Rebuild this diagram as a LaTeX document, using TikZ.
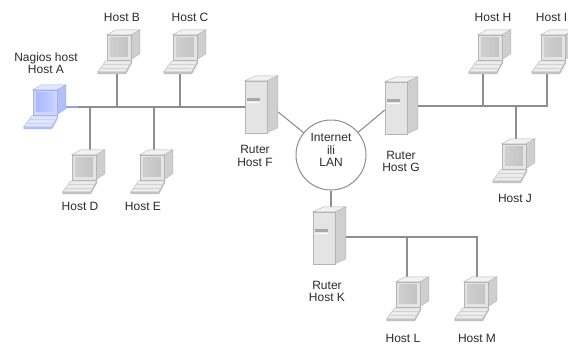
\documentclass[tikz,border=0pt]{standalone}
\usepackage{fontspec}
\setmainfont{Liberation Sans}
\definecolor{wiregray}{HTML}{8E8E8E}
\definecolor{hostblue}{HTML}{8FA0FF}
\definecolor{captext}{HTML}{2B2B2B}
\tikzset{
  % colour schemes for the workstation and server icons
  grayscheme/.style={/utils/exec={%
    \definecolor{icTop}{HTML}{F2F2F2}\definecolor{icFront}{HTML}{E4E4E4}%
    \definecolor{icSide}{HTML}{CFCFCF}\definecolor{icEdge}{HTML}{B4B4B4}%
    \definecolor{icKey}{HTML}{ECECEC}\definecolor{icKeySide}{HTML}{C9C9C9}%
    \definecolor{icScrA}{HTML}{CFCFCF}\definecolor{icScrB}{HTML}{8C8C8C}%
    \definecolor{icScrC}{HTML}{C4C4C4}\definecolor{icSlot}{HTML}{A8A8A8}}},
  bluescheme/.style={/utils/exec={%
    \definecolor{icTop}{HTML}{E3E8FF}\definecolor{icFront}{HTML}{CDD6FF}%
    \definecolor{icSide}{HTML}{B3BFF7}\definecolor{icEdge}{HTML}{A5B2F2}%
    \definecolor{icKey}{HTML}{DFE5FF}\definecolor{icKeySide}{HTML}{B9C4F5}%
    \definecolor{icScrA}{HTML}{AAB8FF}\definecolor{icScrB}{HTML}{6E86F2}%
    \definecolor{icScrC}{HTML}{C5CFFF}\definecolor{icSlot}{HTML}{8FA0EE}}},
  icline/.style={draw=icEdge,line width=0.4pt},
  % workstation: CRT monitor with keyboard, origin at the top left corner
  pc/.pic={
    \filldraw[icline,fill=icKeySide] (0,42) -- (28,42) -- (34,31) -- (34,33) -- (28,44) -- (0,44) -- cycle;
    \filldraw[icline,fill=icKey] (8,31) -- (34,31) -- (28,42) -- (0,42) -- cycle;
    \draw[icEdge!60,line width=0.3pt] (5.5,34.5) -- (32,34.5) (3,38) -- (30,38);
    \filldraw[icline,fill=icSide] (33,5) -- (42,0) -- (42,24) -- (33,30) -- cycle;
    \filldraw[icline,fill=icTop] (9,5) -- (33,5) -- (42,0) -- (18,0) -- cycle;
    \filldraw[icline,fill=icFront] (9,5) rectangle (33,30);
    \shade[left color=icScrA,middle color=icScrB,right color=icScrC] (12,8) rectangle (30,27);
  },
  % tower server used as router
  srv/.pic={
    \filldraw[icline,fill=icSide] (22,5) -- (33,0) -- (33,52) -- (22,57) -- cycle;
    \filldraw[icline,fill=icTop] (0,5) -- (22,5) -- (33,0) -- (11,0) -- cycle;
    \filldraw[icline,fill=icFront] (0,5) rectangle (22,57);
    \fill[icSlot] (2,22) rectangle (15,25);
    \draw[white,line width=0.5pt] (2,26) -- (15,26);
  }
}
\begin{document}
\begin{tikzpicture}[x=1pt,y=-1pt,
  wire/.style={draw=wiregray,line width=1.1pt},
  hostwire/.style={draw=hostblue,line width=1.1pt},
  caption/.style={font=\fontsize{12}{12.5}\selectfont,text=captext,align=center,inner sep=0pt},
  pcbox/.style={minimum width=42pt,minimum height=44pt,inner sep=0pt},
  srvbox/.style={minimum width=33pt,minimum height=57pt,inner sep=0pt},
  netcircle/.style={circle,draw=wiregray,line width=1pt,fill=white,minimum size=70pt,inner sep=0pt}]
\fill[white] (0,0) rectangle (568,346);
\useasboundingbox (0,0) rectangle (568,346);

% placeholders for the machines
\node[pcbox] (A) at (45,107) {};
\node[pcbox] (B) at (119,52) {};
\node[pcbox] (C) at (185,52) {};
\node[pcbox] (D) at (84,172) {};
\node[pcbox] (E) at (152,172) {};
\node[pcbox] (H) at (490,52) {};
\node[pcbox] (I) at (553,52) {};
\node[pcbox] (J) at (514,161) {};
\node[pcbox] (L) at (408,299) {};
\node[pcbox] (M) at (476,299) {};
\node[srvbox] (F) at (261.5,104.5) {};
\node[srvbox] (G) at (401.5,105.5) {};
\node[srvbox] (K) at (329.5,235.5) {};
\node[netcircle] (net) at (331,155) {};

% bus taps
\coordinate (tB) at (117,107);
\coordinate (tC) at (180,107);
\coordinate (tD) at (90,107);
\coordinate (tE) at (154,107);
\coordinate (tH) at (483,106);
\coordinate (tJ) at (516,106);
\coordinate (tI) at (547,106);
\coordinate (tL) at (407,237);
\coordinate (tM) at (477,237);

% segment of Host A
\draw[wire] (A.east) -- (A.east -| F.west);
\draw[hostwire] (A.east) -- ++(12,0);
\draw[wire] (tB) -- (tB |- B.south);
\draw[wire] (tC) -- (tC |- C.south);
\draw[wire] (tD) -- (tD |- D.north);
\draw[wire] (tE) -- (tE |- E.north);
% routers to the network
\draw[wire] ([yshift=-7.5pt]F.east) -- (net);
\draw[wire] ([yshift=-4.5pt]G.west) -- (net);
\draw[wire] (net.south) -- (net.south |- K.north);
% segment of router G
\draw[wire] (tI -| G.east) -- (tI) -- (tI |- I.south);
\draw[wire] (tH) -- (tH |- H.south);
\draw[wire] (tJ) -- (tJ |- J.north);
% segment of router K
\draw[wire] (tM -| K.east) -- (tM) -- (tM |- M.north);
\draw[wire] (tL) -- (tL |- L.north);

% icons
\pic[bluescheme] at (A.north west) {pc};
\foreach \n in {B,C,D,E,H,I,J,L,M} {\pic[grayscheme] at (\n.north west) {pc};}
\foreach \n in {F,G,K} {\pic[grayscheme] at (\n.north west) {srv};}

% captions
\node[caption] (cNet) at (331,150) {Internet\\ili\\LAN};
\node[caption] (cA) at (46,63) {Nagios host\\Host A};
\node[caption] (cB) at (122,17.5) {Host B};
\node[caption] (cC) at (190,17.5) {Host C};
\node[caption] (cD) at (80,206) {Host D};
\node[caption] (cE) at (143,206) {Host E};
\node[caption] (cF) at (255,156) {Ruter\\Host F};
\node[caption] (cG) at (401,161.5) {Ruter\\Host G};
\node[caption] (cH) at (493,17.5) {Host H};
\node[caption,anchor=east] (cI) at (567.5,17.5) {Host I};
\node[caption] (cJ) at (515,198) {Host J};
\node[caption] (cK) at (327,291.5) {Ruter\\Host K};
\node[caption] (cL) at (403,338) {Host L};
\node[caption] (cM) at (477,338) {Host M};
\end{tikzpicture}
\end{document}
